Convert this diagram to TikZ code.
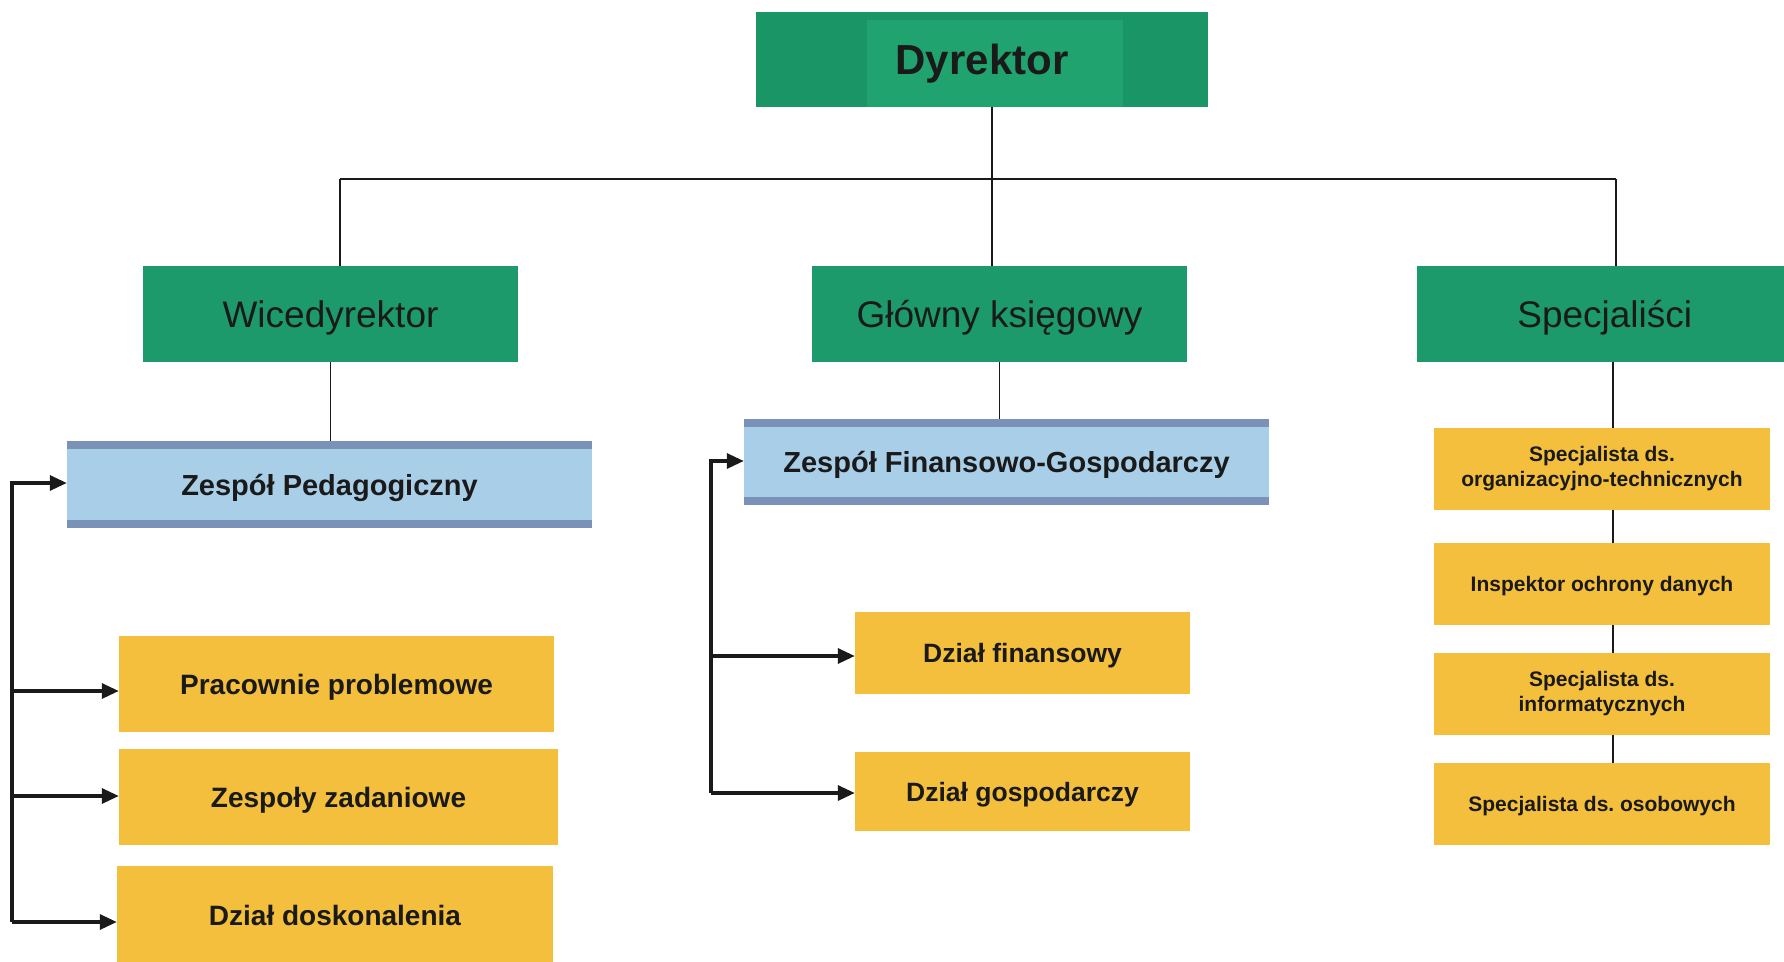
\documentclass[tikz,border=0pt]{standalone}
\usepackage{fontspec}
\setmainfont{Liberation Sans}
\usetikzlibrary{arrows.meta}
\frenchspacing
\definecolor{gdark}{HTML}{1A9565}
\definecolor{glight}{HTML}{20A36F}
\definecolor{gbox}{HTML}{1D9A6C}
\definecolor{bfill}{HTML}{A9CFE8}
\definecolor{bstripe}{HTML}{7A92B7}
\definecolor{yfill}{HTML}{F3BF3C}
\definecolor{ink}{HTML}{1A1A1A}
\tikzset{
  gtitle/.style={fill=gbox, inner sep=0pt, text=ink, font=\fontsize{37}{40}\selectfont, text height=26.6pt, text depth=0pt},
  dirbox/.style={fill=gdark, inner sep=0pt, text=ink, font=\fontsize{42}{46}\selectfont\bfseries, text height=30pt, text depth=0pt,
    path picture={\fill[glight] ([xshift=111pt,yshift=-8pt]path picture bounding box.north west)
      rectangle ([xshift=-85pt]path picture bounding box.south east);}},
  bluebox/.style={fill=bfill, inner sep=0pt, text=ink, font=\fontsize{29}{32}\selectfont\bfseries, text height=21pt, text depth=0pt,
    path picture={\fill[bstripe] (path picture bounding box.north west) rectangle ([yshift=-8pt]path picture bounding box.north east);
      \fill[bstripe] (path picture bounding box.south west) rectangle ([yshift=8pt]path picture bounding box.south east);}},
  ybox/.style={fill=yfill, inner sep=0pt, text=ink, font=\fontsize{28}{32}\selectfont\bfseries, text height=20pt, text depth=0pt},
  yboxm/.style={ybox, font=\fontsize{26.5}{30}\selectfont\bfseries, text height=19pt},
  yboxs/.style={ybox, font=\fontsize{21}{25}\selectfont\bfseries, text height=15pt},
  yboxt/.style={fill=yfill, inner sep=0pt, text=ink, font=\fontsize{21}{25}\selectfont\bfseries},
  tree/.style={draw=ink, line width=1.7pt},
  arr/.style={draw=ink, line width=3.2pt, -{Triangle[length=17pt,width=15pt]}},
}
\begin{document}
\begin{tikzpicture}[x=1pt,y=-1pt]
\useasboundingbox (0,0) rectangle (1784,961);
\fill[white] (0,0) rectangle (1784,961);

% top level
\node[dirbox, minimum width=452pt, minimum height=95pt] (dyr) at (982,59.5) {Dyrektor};
\node[gtitle, minimum width=375pt, minimum height=96pt] (wice) at (330.5,314) {Wicedyrektor};
\node[gtitle, minimum width=375pt, minimum height=96pt] (gk) at (999.5,314) {Główny księgowy};
\node[gtitle, minimum width=375pt, minimum height=96pt, anchor=west] (spec) at (1417,314) {Specjaliści};

% blue teams
\node[bluebox, minimum width=525pt, minimum height=87pt] (zp) at (329.5,484.5) {Zespół Pedagogiczny};
\node[bluebox, minimum width=525pt, minimum height=86pt] (zfg) at (1006.5,462) {Zespół Finansowo-Gospodarczy};

% left yellow
\node[ybox, minimum width=435pt, minimum height=96pt] (pp) at (336.5,684) {Pracownie problemowe};
\node[ybox, minimum width=439pt, minimum height=96pt] (zz) at (338.5,797) {Zespoły zadaniowe};
\node[ybox, minimum width=436pt, minimum height=110pt] (dd) at (335,921) {\raisebox{6pt}{Dział doskonalenia}};

% middle yellow
\node[yboxm, minimum width=335pt, minimum height=82pt] (df) at (1022.5,653) {Dział finansowy};
\node[yboxm, minimum width=335pt, minimum height=79pt] (dg) at (1022.5,791.5) {Dział gospodarczy};

% right yellow
\node[yboxt, minimum width=336pt, minimum height=82pt] (s1) at (1602,469) {\raisebox{-4pt}{\begin{tabular}{@{}c@{}}Specjalista ds.\\organizacyjno-technicznych\end{tabular}}};
\node[yboxs, minimum width=336pt, minimum height=82pt] (s2) at (1602,584) {Inspektor ochrony danych};
\node[yboxt, minimum width=336pt, minimum height=82pt] (s3) at (1602,694) {\raisebox{-4pt}{\begin{tabular}{@{}c@{}}Specjalista ds.\\informatycznych\end{tabular}}};
\node[yboxs, minimum width=336pt, minimum height=82pt] (s4) at (1602,804) {Specjalista ds. osobowych};

% tree connectors
\coordinate (hc) at (992,179);
\coordinate (hl) at (340,179);
\coordinate (hr) at (1616,179);
\draw[tree] (dyr.south -| hc) -- (hc);
\draw[tree] (hl) -- (hr);
\draw[tree] (hl) -- (hl |- wice.north);
\draw[tree] (hc) -- (hc |- gk.north);
\draw[tree] (hr) -- (hr |- spec.north);
\draw[tree] (wice.south) -- (wice.south |- zp.north);
\draw[tree] (gk.south) -- (gk.south |- zfg.north);
\coordinate (sx) at (1613,0);
\draw[tree] (spec.south -| sx) -- (s1.north -| sx);
\draw[tree] (s1.south -| sx) -- (s2.north -| sx);
\draw[tree] (s2.south -| sx) -- (s3.north -| sx);
\draw[tree] (s3.south -| sx) -- (s4.north -| sx);

% left arrows
\coordinate (L1) at (12,483);
\coordinate (L2) at (12,691);
\coordinate (L3) at (12,796);
\coordinate (L4) at (12,922);
\draw[arr] (L4) -- (L1) -- (L1 -| zp.west);
\draw[arr] (L2) -- (L2 -| pp.west);
\draw[arr] (L3) -- (L3 -| zz.west);
\draw[arr] (L4) -- (L4 -| dd.west);

% middle arrows
\coordinate (M1) at (711,461);
\coordinate (M2) at (711,656);
\coordinate (M3) at (711,793);
\draw[arr] (M3) -- (M1) -- (M1 -| zfg.west);
\draw[arr] (M2) -- (M2 -| df.west);
\draw[arr] (M3) -- (M3 -| dg.west);
\end{tikzpicture}
\end{document}
